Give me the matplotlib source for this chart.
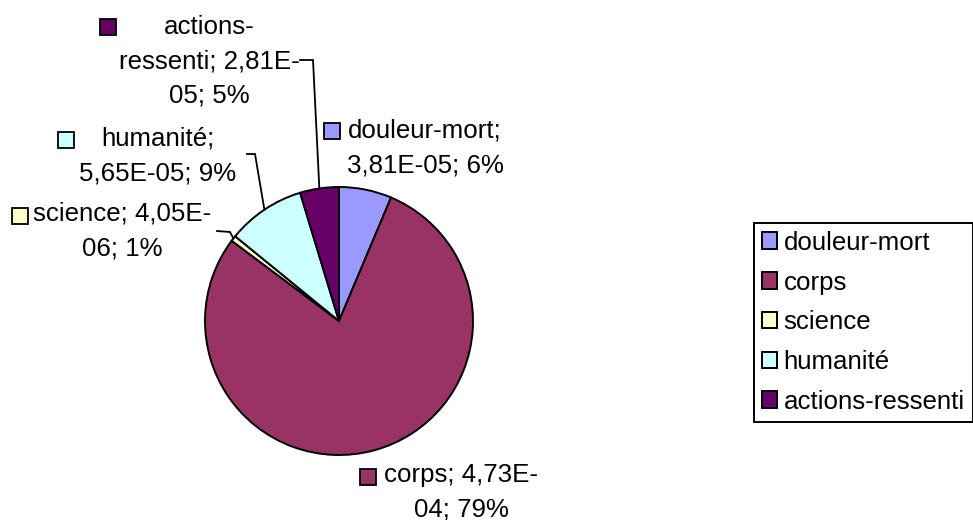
import matplotlib

matplotlib.use("Agg")
import matplotlib.pyplot as plt  # noqa: E402
import numpy as np  # noqa: E402

plt.rcParams["font.family"] = ["Liberation Sans", "DejaVu Sans"]

# données du graphique
categories = ["douleur-mort", "corps", "science", "humanité", "actions-ressenti"]
values = [3.81e-05, 4.73e-04, 4.05e-06, 5.65e-05, 2.81e-05]
colors = ["#9999FF", "#993366", "#FFFFCC", "#CCFFFF", "#660066"]
# étiquettes telles qu'Excel les a coupées
label_texts = [
    "douleur-mort;\n3,81E-05; 6%",
    "corps; 4,73E-\n04; 79%",
    "science; 4,05E-\n06; 1%",
    "humanité;\n5,65E-05; 9%",
    "actions-\nressenti; 2,81E-\n05; 5%",
]

W, H = 973, 520
FS = 18.6  # ~26 px


def Y(y):
    return H - y


fig = plt.figure(figsize=(W / 100, H / 100), dpi=100)
ax = fig.add_axes([0, 0, 1, 1])

cx, cy, r = 339, Y(321), 134
wedges, _ = ax.pie(values, colors=colors, startangle=90, counterclock=False,
                   center=(cx, cy), radius=r,
                   wedgeprops=dict(edgecolor="black", linewidth=1.4))
ax.set_aspect("equal")
ax.set_xlim(0, W)
ax.set_ylim(0, H)
ax.axis("off")

# position des étiquettes (centre du texte) et de leur carré de légende
text_pos = [(425, 148), (461, 492), (122, 231), (158, 156), (209, 61)]
key_pos = [(332, 131), (368, 477), (20, 216), (66, 140), (108, 27)]
# lignes de rappel : point de départ, coude (None = pas de ligne)
leaders = [None, None, ((217, 231), (230, 232)), ((247, 154), (255, 154)),
           ((300, 60), (313, 60))]

for i, w in enumerate(wedges):
    tx, ty = text_pos[i]
    ax.text(tx, Y(ty), label_texts[i], ha="center", va="center",
            multialignment="center", fontsize=FS, linespacing=1.55, color="black")
    kx, ky = key_pos[i]
    ax.plot(kx, Y(ky), marker="s", ms=11, mfc=colors[i], mec="black", mew=1.3)
    if leaders[i] is not None:
        (x0, y0), (x1, y1) = leaders[i]
        mid = np.deg2rad((w.theta1 + w.theta2) / 2)
        ex, ey = cx + r * np.cos(mid), cy + r * np.sin(mid)
        ax.plot([x0, x1, ex], [Y(y0), Y(y1), ey], color="black", lw=1.3,
                solid_joinstyle="miter")

leg = ax.legend(wedges, categories, loc="upper left",
                bbox_to_anchor=(754 / W, 1 - 223 / H), bbox_transform=fig.transFigure,
                borderaxespad=0, fontsize=FS, fancybox=False, framealpha=1,
                edgecolor="black", handlelength=0.6, handleheight=0.6,
                handletextpad=0.25, borderpad=0.3, labelspacing=0.61)
leg.get_frame().set_linewidth(1.4)

fig.savefig("out.png", dpi=100, facecolor="white")
